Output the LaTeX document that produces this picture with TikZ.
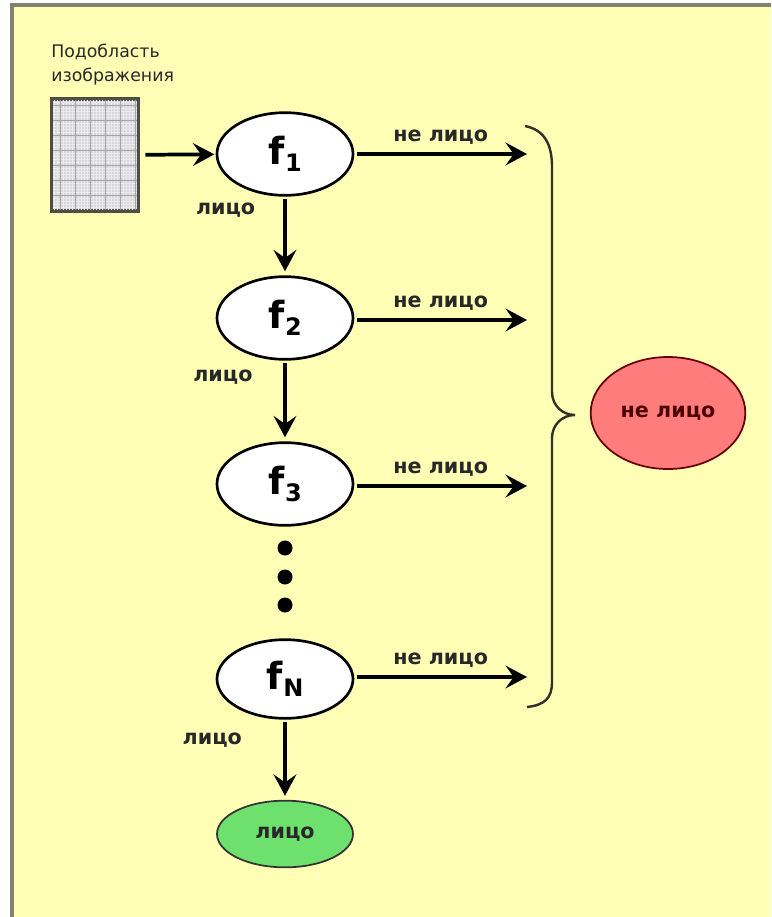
\documentclass[tikz,border=0pt]{standalone}
\usepackage{fontspec}
\setmainfont{DejaVu Sans}
\usetikzlibrary{arrows.meta,shapes.geometric}

\definecolor{bgyellow}{RGB}{255,255,182}
\definecolor{framegray}{RGB}{130,130,112}
\definecolor{cellgray}{RGB}{214,214,220}
\definecolor{nonfacered}{RGB}{255,124,124}
\definecolor{facegreen}{RGB}{110,224,110}
\definecolor{txtdark}{RGB}{40,40,40}

\newcommand{\fstage}[1]{\bfseries\fontsize{28pt}{28pt}\selectfont f\kern0.5pt\raisebox{-5pt}{\fontsize{18pt}{18pt}\selectfont #1}}

\tikzset{
  stage/.style={ellipse, draw=black, line width=2pt, fill=white, inner sep=0pt,
    minimum width=102pt, minimum height=62pt, text=black},
  flow/.style={line width=2.8pt, -{Stealth[length=16pt,width=17pt,inset=6pt]}},
  lbl/.style={text=txtdark, font=\bfseries\fontsize{15.5pt}{15.5pt}\selectfont, inner sep=1pt},
}

\begin{document}
\begin{tikzpicture}[x=0.75pt,y=0.75pt,yscale=-1,xscale=1]
\useasboundingbox (0,0) rectangle (771,917);

%Shape: Rectangle [background]
\fill [bgyellow] (12,5) rectangle (771,917);
\draw [framegray, line width=2.5pt] (12,917) -- (12,5) -- (771,5);

% Text Node
\node [anchor=north west, inner sep=0pt, align=left, text=txtdark,
  font=\fontsize{13pt}{18pt}\selectfont] (subtitle) at (51,44) {Подобласть\\изображения};

%Shape: Rectangle [sub-image]
\node [draw=framegray!70!black, line width=1.5pt, fill=cellgray, minimum width=64pt,
  minimum height=83pt, inner sep=0pt] (img) at (95,155) {};
\draw [white!85!gray, line width=0.3pt] (img.south west) grid [step=3] (img.north east);
\draw [gray!70, line width=0.3pt] (img.south west) grid [step=15] (img.north east);
\draw [framegray!60!black, line width=1.8pt] (img.south west) rectangle (img.north east);

%Shape: Ellipse [stages]
\node [stage] (f1) at (285,154) {\fstage{1}};
\node [stage] (f2) at (285,318) {\fstage{2}};
\node [stage] (f3) at (285,484) {\fstage{3}};
\node [stage, minimum height=59pt] (fN) at (285,679) {\fstage{N}};

%Shape: Ellipse [results]
\node [ellipse, draw=black!80, line width=1.3pt, fill=facegreen, inner sep=0pt,
  minimum width=102pt, minimum height=50pt, lbl] (face) at (285,834) {лицо};
\node [ellipse, draw=black!60!red, line width=1.3pt, fill=nonfacered, inner sep=0pt,
  minimum width=116pt, minimum height=84pt, lbl, text=black!70!red] (nonface) at (668,413) {не лицо};

%Straight Lines
\draw [flow, shorten <=5pt, shorten >=1pt] (img) -- (f1);
\draw [flow, shorten <=2pt, shorten >=3pt] (f1) -- (f2) node [lbl, pos=0.17, left=20pt] {лицо};
\draw [flow, shorten <=2pt, shorten >=3pt] (f2) -- (f3) node [lbl, pos=0.21, left=22pt] {лицо};
\draw [flow, shorten <=2pt, shorten >=3pt] (fN) -- (face) node [lbl, pos=0.25, left=30pt] {лицо};

%Straight Lines [not a face]
\coordinate (e1) at (527,154);
\coordinate (e2) at (527,320);
\coordinate (e3) at (527,486);
\coordinate (eN) at (527,677);
\draw [flow, shorten <=2pt] (f1.east) -- (e1) node [lbl, midway, above=5pt] {не лицо};
\draw [flow, shorten <=2pt] (f2.east |- e2) -- (e2) node [lbl, midway, above=5pt] {не лицо};
\draw [flow, shorten <=2pt] (f3.east |- e3) -- (e3) node [lbl, midway, above=5pt] {не лицо};
\draw [flow, shorten <=2pt] (fN.east |- eN) -- (eN) node [lbl, midway, above=5pt] {не лицо};

%Shape: Circle [dots]
\fill (285,548) circle (7.5);
\fill (285,577) circle (7.5);
\fill (285,605) circle (7.5);

%Curve Lines [brace]
\coordinate (tip) at (575,415);
\draw [line width=1.8pt, black!85!olive] (525,126) .. controls (545,130) and (552,145) .. (552,167) -- (552,392) .. controls (552,405) and (562,415) .. (tip) .. controls (562,415) and (552,425) .. (552,438) -- (552,682) .. controls (552,698) and (545,705) .. (527,707);

\end{tikzpicture}
\end{document}
